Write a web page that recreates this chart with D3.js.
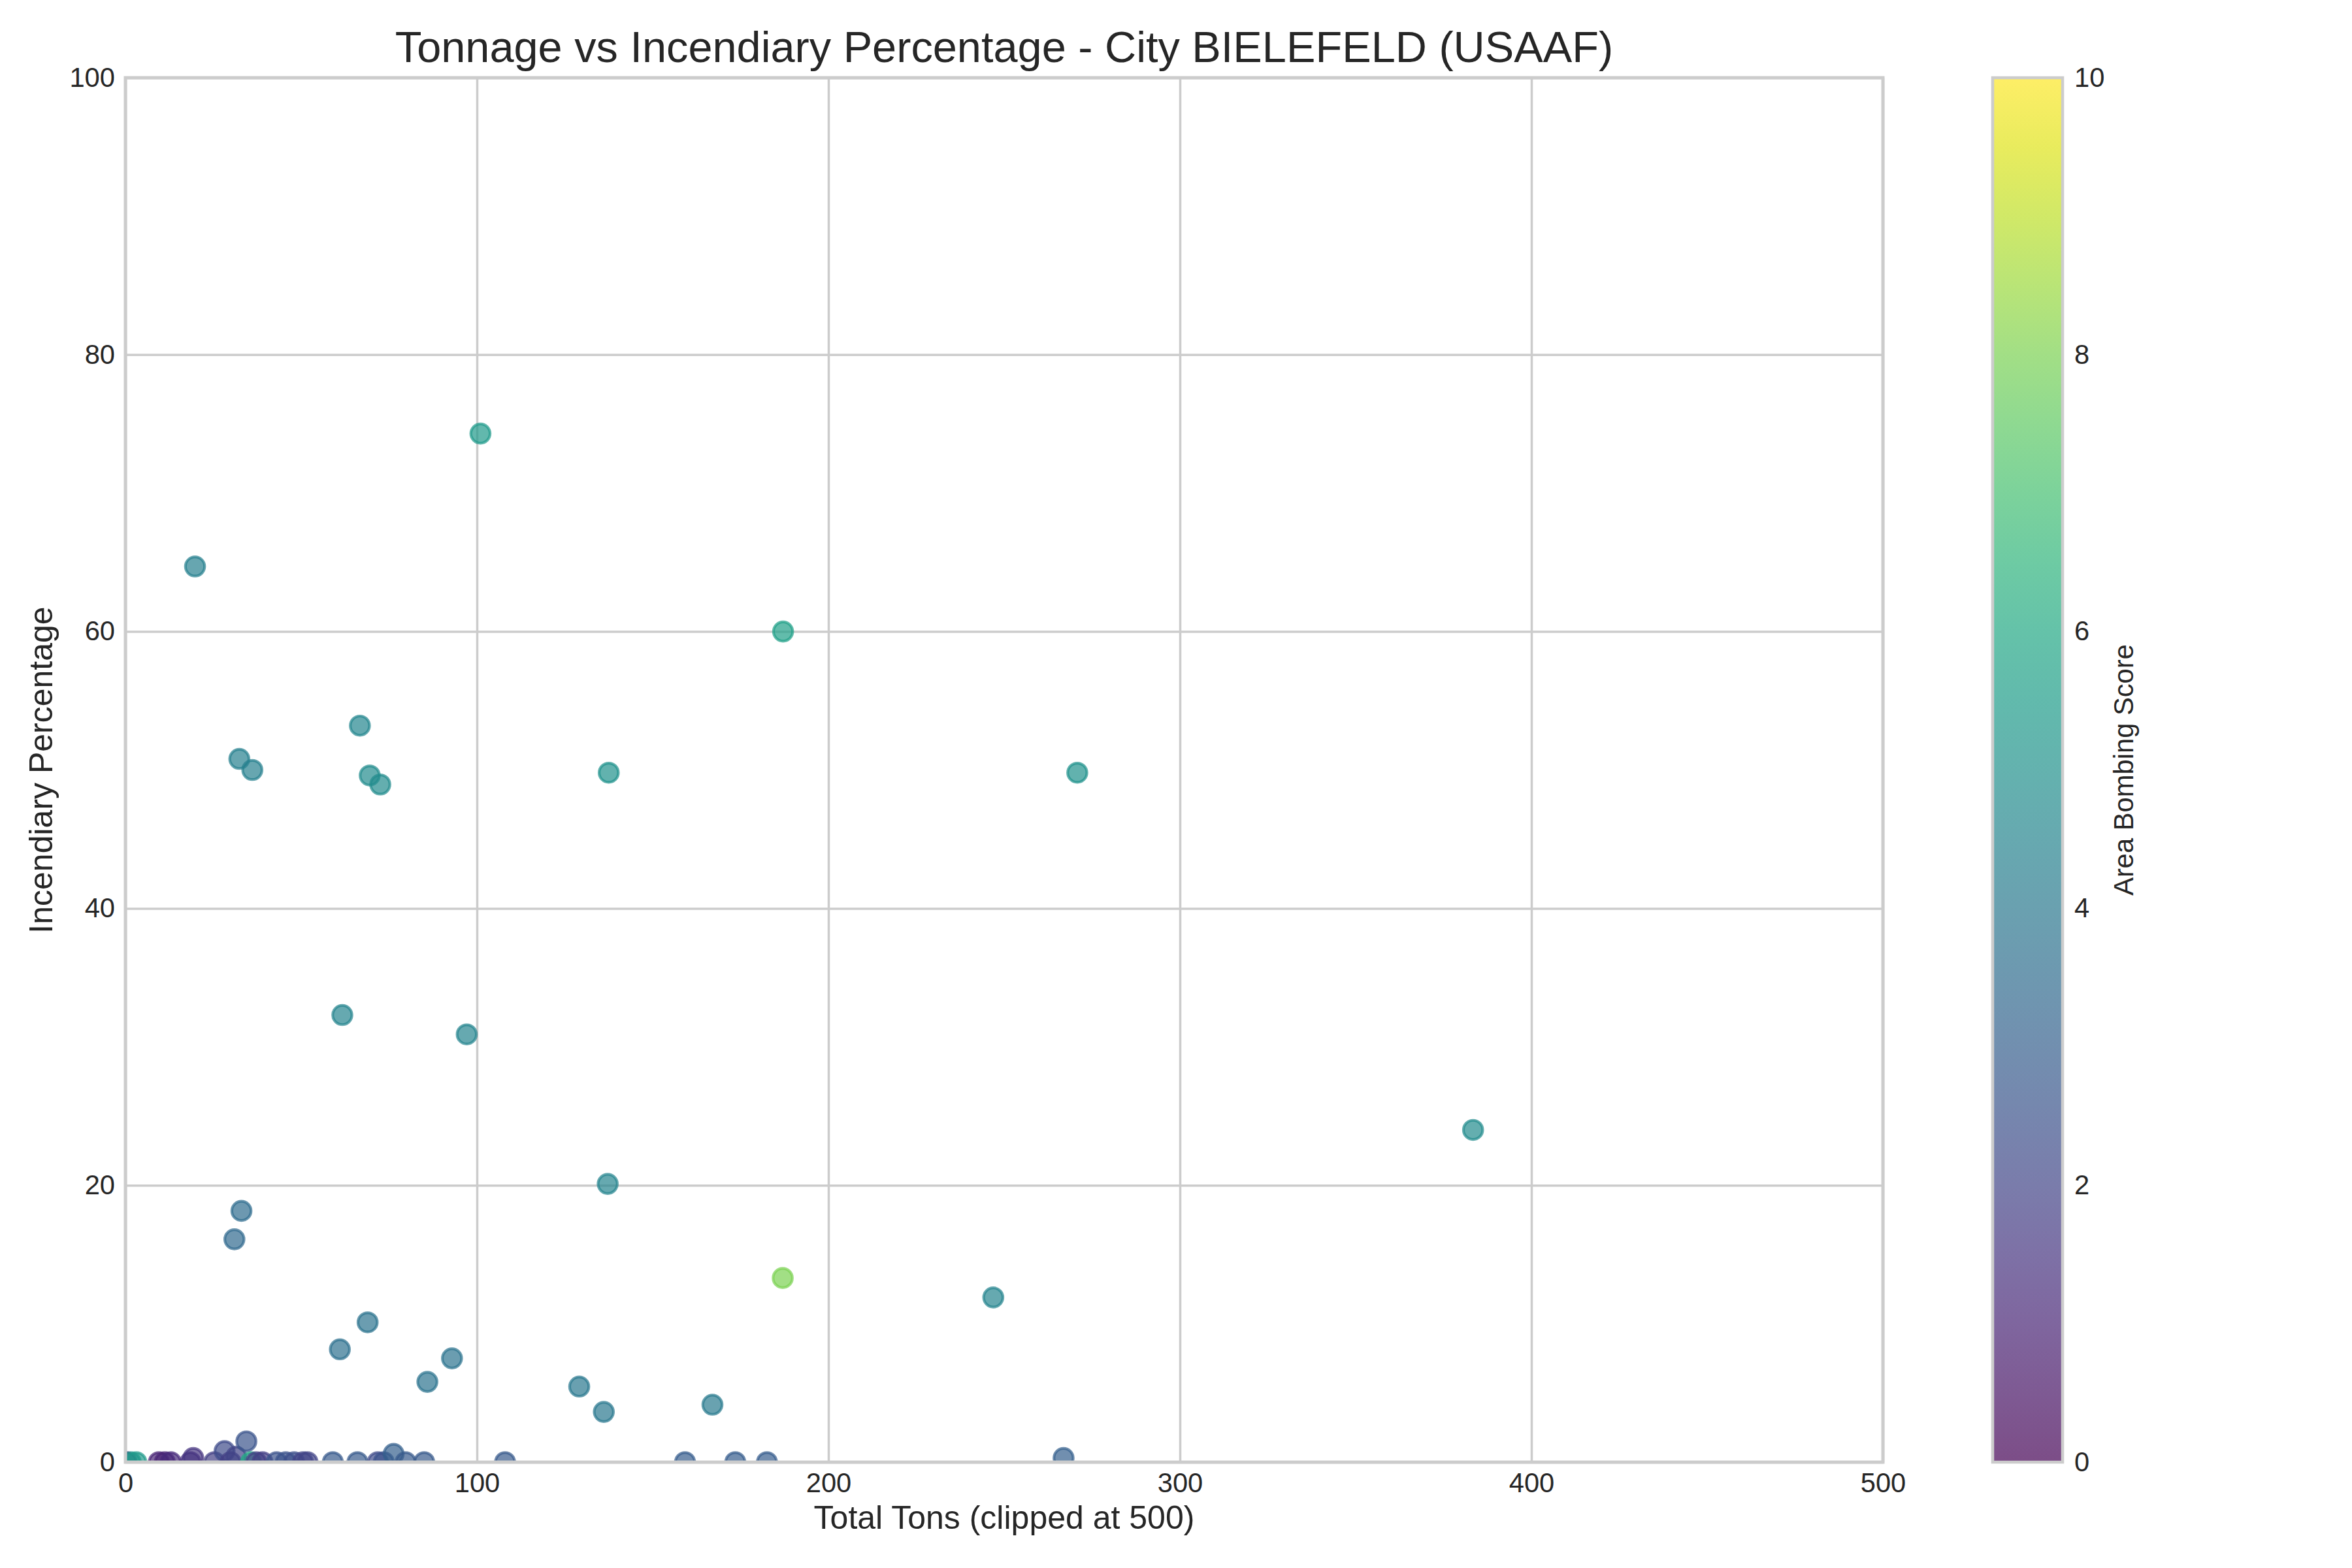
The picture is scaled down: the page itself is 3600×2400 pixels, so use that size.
<!DOCTYPE html>
<html>
<head>
<meta charset="utf-8">
<script src="https://cdn.jsdelivr.net/npm/d3@7"></script>
<style>
  body { margin: 0; background: #fff; }
  text { font-family: "Liberation Sans", Arial, sans-serif; fill: #262626; }
</style>
</head>
<body>
<svg id="chart" width="3600" height="2400"></svg>
<script>
// values: tons, incendiary %, area bombing score
var tons = [101, 19.8, 187.1, 66.7, 32.4, 36.1, 69.5, 72.5, 137.5, 270.8,
  61.7, 97.1, 383.4, 137.2, 33.0, 31.0, 187.0, 246.9, 68.9, 61.0,
  92.9, 85.9, 129.1, 167.0, 136.1, 266.9,
  0.3, 1.5, 3.1, 9.5, 11.2, 12.9, 18.5, 19.3, 25.3, 28.2,
  29.9, 31.5, 34.4, 35.7, 37.2, 39.0, 43.0, 45.6, 48.0, 50.5,
  51.8, 59.0, 66.0, 71.8, 73.5, 76.3, 79.7, 85.0, 108.0, 159.2,
  173.5, 182.5];
var incendiary = [74.3, 64.7, 60.0, 53.2, 50.8, 50.0, 49.6, 48.95, 49.8, 49.8,
  32.3, 30.9, 24.0, 20.1, 18.15, 16.1, 13.3, 11.9, 10.1, 8.15,
  7.5, 5.8, 5.46, 4.15, 3.63, 0.3,
  0, 0, 0, 0, 0, 0, 0, 0.3, 0, 0.8,
  0, 0.4, 1.5, 0, 0, 0, 0, 0, 0, 0,
  0, 0, 0, 0, 0, 0.6, 0, 0, 0, 0,
  0, 0];
var score = [5.4, 4.3, 5.6, 4.6, 4.3, 4.3, 4.8, 4.8, 5.1, 5.1,
  4.5, 4.5, 4.8, 4.5, 3.5, 3.4, 8.0, 4.5, 3.8, 3.7,
  3.8, 3.8, 4.0, 4.1, 4.0, 3.0,
  0.8, 5.2, 5.4, 1.0, 1.0, 1.2, 1.4, 1.5, 1.8, 2.3,
  1.8, 2.0, 2.6, 6.0, 1.8, 1.8, 2.5, 2.5, 2.4, 2.0,
  2.0, 2.8, 2.8, 2.3, 2.5, 3.0, 2.8, 2.8, 2.8, 2.9,
  2.9, 2.9];
var xTicks = [0, 100, 200, 300, 400, 500];
var yTicks = [0, 20, 40, 60, 80, 100];
var cTicks = [0, 2, 4, 6, 8, 10];

var svg = d3.select("#chart");
svg.append("rect").attr("width", 3600).attr("height", 2400).attr("fill", "#fff");

var L = 192, R = 2882, T = 119, B = 2238;
var x = d3.scaleLinear().domain([0, 500]).range([L, R]);
var y = d3.scaleLinear().domain([0, 100]).range([B, T]);
var color = d3.scaleSequential(d3.interpolateViridis).domain([0, 10]);
var grid = "#cccccc";

// grid
svg.append("g").attr("transform", "translate(0," + B + ")")
  .call(d3.axisBottom(x).tickValues(xTicks).tickSize(-(B - T)).tickFormat(""))
  .call(function(g) { g.select(".domain").remove(); })
  .selectAll("line").attr("stroke", grid).attr("stroke-width", 3.5);
svg.append("g").attr("transform", "translate(" + L + ",0)")
  .call(d3.axisLeft(y).tickValues(yTicks).tickSize(-(R - L)).tickFormat(""))
  .call(function(g) { g.select(".domain").remove(); })
  .selectAll("line").attr("stroke", grid).attr("stroke-width", 3.5);

// points
svg.append("clipPath").attr("id", "plotclip")
  .append("rect").attr("x", L).attr("y", T).attr("width", R - L).attr("height", B - T);

var idx = d3.range(tons.length);
svg.append("g").attr("clip-path", "url(#plotclip)")
  .selectAll("circle")
  .data(idx)
  .enter()
  .append("circle")
  .attr("cx", function(i) { return x(tons[i]); })
  .attr("cy", function(i) { return y(incendiary[i]); })
  .attr("r", 14.7)
  .attr("fill", function(i) { return color(score[i]); })
  .attr("fill-opacity", 0.7)
  .attr("stroke", function(i) { return color(score[i]); })
  .attr("stroke-opacity", 0.7)
  .attr("stroke-width", 4.2);

// spines
svg.append("rect").attr("x", L).attr("y", T).attr("width", R - L).attr("height", B - T)
  .attr("fill", "none").attr("stroke", grid).attr("stroke-width", 5);

// tick labels
var xa = svg.append("g").attr("transform", "translate(0," + B + ")")
  .call(d3.axisBottom(x).tickValues(xTicks).tickSize(0).tickPadding(16));
xa.select(".domain").remove();
xa.selectAll("text").attr("font-size", 41.7).attr("font-family", "Liberation Sans, Arial, sans-serif").attr("fill", "#262626");

var ya = svg.append("g").attr("transform", "translate(" + L + ",0)")
  .call(d3.axisLeft(y).tickValues(yTicks).tickSize(0).tickPadding(16));
ya.select(".domain").remove();
ya.selectAll("text").attr("font-size", 41.7).attr("font-family", "Liberation Sans, Arial, sans-serif").attr("fill", "#262626");

// titles
svg.append("text").attr("x", (L + R) / 2).attr("y", 95).attr("text-anchor", "middle")
  .attr("font-size", 66.7).text("Tonnage vs Incendiary Percentage - City BIELEFELD (USAAF)");
svg.append("text").attr("x", (L + R) / 2).attr("y", 2340).attr("text-anchor", "middle")
  .attr("font-size", 50).text("Total Tons (clipped at 500)");
svg.append("text").attr("transform", "translate(80," + ((T + B) / 2) + ") rotate(-90)")
  .attr("text-anchor", "middle").attr("font-size", 50).text("Incendiary Percentage");

// colorbar
var CL = 3050, CR = 3157;
var cy = d3.scaleLinear().domain([0, 10]).range([B, T]);
var grad = svg.append("defs").append("linearGradient").attr("id", "cbar")
  .attr("x1", 0).attr("y1", 1).attr("x2", 0).attr("y2", 0);
d3.range(0, 1.0001, 0.05).forEach(function(t) {
  grad.append("stop").attr("offset", t).attr("stop-color", d3.interpolateViridis(t))
    .attr("stop-opacity", 0.7);
});
svg.append("rect").attr("x", CL).attr("y", T).attr("width", CR - CL).attr("height", B - T)
  .attr("fill", "url(#cbar)").attr("stroke", grid).attr("stroke-width", 4.5);

var ca = svg.append("g").attr("transform", "translate(" + CR + ",0)")
  .call(d3.axisRight(cy).tickValues(cTicks).tickSize(0).tickPadding(18));
ca.select(".domain").remove();
ca.selectAll("text").attr("font-size", 41.7).attr("font-family", "Liberation Sans, Arial, sans-serif").attr("fill", "#262626");

svg.append("text").attr("transform", "translate(3265," + ((T + B) / 2) + ") rotate(-90)")
  .attr("text-anchor", "middle").attr("font-size", 41.7).text("Area Bombing Score");
</script>
</body>
</html>
